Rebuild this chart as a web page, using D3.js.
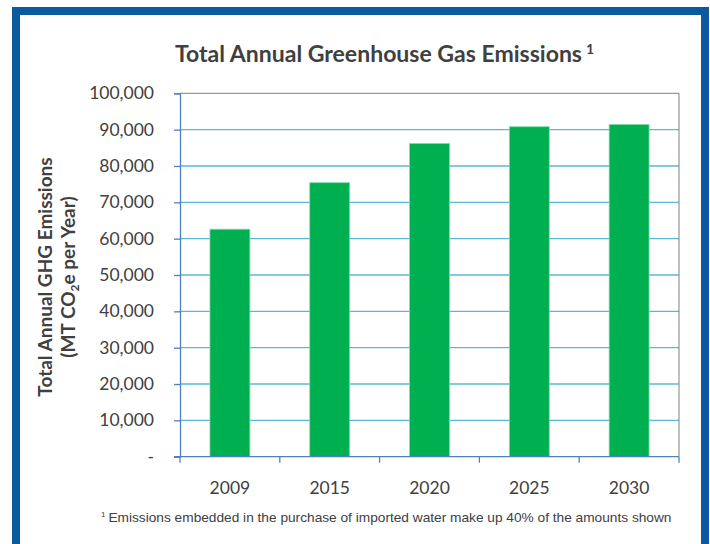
<!DOCTYPE html>
<html><head><meta charset="utf-8">
<script src="https://cdn.jsdelivr.net/npm/d3@7"></script>
<style>body{margin:0;background:#fff;}svg{display:block;}</style>
</head><body>
<svg id="c" width="710" height="544"></svg>
<script>
const categories = ["2009","2015","2020","2025","2030"];
const values = [62600, 75400, 86200, 90800, 91400];
const yTicks = [0,10000,20000,30000,40000,50000,60000,70000,80000,90000,100000];
const titleText = "Total Annual Greenhouse Gas Emissions";
const footnoteText = "Emissions embedded in the purchase of imported water make up 40% of the amounts shown";

const svg = d3.select("#c");
// frame
svg.append("rect").attr("x",0).attr("y",0).attr("width",710).attr("height",544).attr("fill","#fff");
svg.append("rect").attr("x",16).attr("y",11).attr("width",689).attr("height",560)
  .attr("fill","none").attr("stroke","#0B5A9E").attr("stroke-width",8);

const L=180, R=679, T=93.3, B=456.7;
const x = d3.scaleBand().domain(categories).range([L,R]).paddingInner(0.6).paddingOuter(0.3);
const y = d3.scaleLinear().domain([0,100000]).range([B,T]);
const fmt = d3.format(",");

// gridlines
svg.append("g").selectAll("line").data(yTicks.filter(d=>d>0 && d<100000)).join("line")
  .attr("x1",L).attr("x2",R).attr("y1",d=>y(d)).attr("y2",d=>y(d))
  .attr("stroke","#5BB8D3").attr("stroke-width",1.3);
// plot border top/right
svg.append("path").attr("d",`M${L},${T}H${R}V${B}`).attr("fill","none").attr("stroke","#808080").attr("stroke-width",1);

// bars
svg.append("g").selectAll("rect").data(values).join("rect")
  .attr("x",(d,i)=>x(categories[i])).attr("width",x.bandwidth())
  .attr("y",d=>y(d)).attr("height",d=>B-y(d))
  .attr("fill","#00B050").attr("stroke","#7FDCA8").attr("stroke-width",0.8);

// y axis
const yAxis = d3.axisLeft(y).tickValues(yTicks).tickSize(6).tickPadding(20)
  .tickFormat(d=>d===0?"-":fmt(d));
const gy = svg.append("g").attr("transform",`translate(${L},0)`).call(yAxis);
gy.select(".domain").attr("stroke","#4F81BD").attr("stroke-width",1.3);
gy.selectAll(".tick line").attr("stroke","#4F81BD").attr("stroke-width",1.3);
gy.selectAll(".tick text").attr("fill","#404040").style("font-family","Lato, 'Open Sans', sans-serif").style("font-size","17.5px");

// x axis
const xb = d3.scaleLinear().domain([0,5]).range([L,R]);
svg.append("g").selectAll("line").data(d3.range(6)).join("line")
  .attr("x1",d=>xb(d)).attr("x2",d=>xb(d)).attr("y1",B).attr("y2",B+6)
  .attr("stroke","#4F81BD").attr("stroke-width",1.3);
svg.append("line").attr("x1",L-6).attr("x2",R).attr("y1",B).attr("y2",B).attr("stroke","#4F81BD").attr("stroke-width",1.3);
svg.append("g").selectAll("text").data(categories).join("text")
  .attr("x",d=>x(d)+x.bandwidth()/2).attr("y",494).attr("text-anchor","middle")
  .attr("fill","#404040").style("font-family","Lato, 'Open Sans', sans-serif").style("font-size","17.5px")
  .text(d=>d);

// title
const t = svg.append("text").attr("x",175).attr("y",62)
  .attr("fill","#404040").style("font-family","Lato, 'Open Sans', sans-serif").style("font-size","22px").style("font-weight","bold");
t.append("tspan").attr("textLength",407).attr("lengthAdjust","spacingAndGlyphs").text(titleText);
t.append("tspan").attr("dx",4).attr("dy",-8).style("font-size","14px").text("1");

// y title
const yt = svg.append("g").attr("transform","translate(0,277) rotate(-90)");
yt.append("text").attr("x",0).attr("y",52).attr("text-anchor","middle")
  .attr("fill","#404040").style("font-family","Lato, 'Open Sans', sans-serif").style("font-size","19px").style("font-weight","bold")
  .text("Total Annual GHG Emissions");
const yt2 = yt.append("text").attr("x",0).attr("y",75).attr("text-anchor","middle")
  .attr("fill","#404040").style("font-family","Lato, 'Open Sans', sans-serif").style("font-size","19px").style("font-weight","bold");
yt2.append("tspan").text("(MT CO");
yt2.append("tspan").attr("dy",4).style("font-size","12px").text("2");
yt2.append("tspan").attr("dy",-4).text("e per Year)");

// footnote
const fn = svg.append("text").attr("x",101).attr("y",522)
  .attr("fill","#404040").style("font-family","'Liberation Sans', Arial, sans-serif").style("font-size","13px");
fn.append("tspan").attr("dy",-5).style("font-size","8px").text("1");
fn.append("tspan").attr("dx",3).attr("dy",5).attr("textLength",563).attr("lengthAdjust","spacingAndGlyphs").text(footnoteText);
</script>
</body></html>
